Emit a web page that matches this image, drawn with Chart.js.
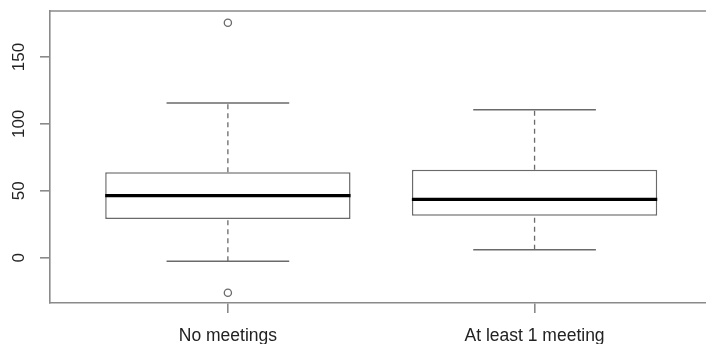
<!DOCTYPE html>
<html>
<head>
<meta charset="utf-8">
<script src="https://cdn.jsdelivr.net/npm/chart.js@4"></script>
<style>
  html, body { margin: 0; padding: 0; background: #fff; }
  #wrap { width: 706px; height: 344px; position: relative; }
</style>
</head>
<body>
<div id="wrap"><canvas id="c"></canvas></div>
<script>
// ---- data ----
const categories   = ['No meetings', 'At least 1 meeting'];
const whiskerLow   = [-2.7, 6.0];
const q1           = [28.9, 31.4];
const median       = [46.3, 43.6];
const q3           = [63.8, 65.8];
const whiskerHigh  = [115.6, 110.6];
const outliers     = [[175.6, -26.2], []];
const yTickValues  = [0, 50, 100, 150];

// ---- style constants ----
const BOX_WIDTH = 0.8;          // R boxwex
const STAPLE = 0.5;             // staple width relative to box
const LINE = '#6a6a6a';
const FRAME = '#8a8a8a';
const TEXT = '#222222';
const FONT = "'Liberation Sans', Arial, sans-serif";

const pos = categories.map((c, i) => i + 1);
const datasets = [];

// boxes (floating bars)
datasets.push({
  type: 'bar',
  order: 10,
  data: pos.map((p, i) => ({ x: p, y: [q1[i], q3[i]] })),
  backgroundColor: '#ffffff',
  borderColor: LINE,
  borderWidth: 1.5,
  borderSkipped: false,
  barPercentage: BOX_WIDTH,
  categoryPercentage: 1.0
});

pos.forEach((p, i) => {
  // dashed whiskers
  datasets.push({
    type: 'line', order: 5,
    data: [{ x: p, y: q3[i] }, { x: p, y: whiskerHigh[i] }],
    borderColor: LINE, borderWidth: 1.3, borderDash: [5, 4], pointRadius: 0, fill: false
  });
  datasets.push({
    type: 'line', order: 5,
    data: [{ x: p, y: whiskerLow[i] }, { x: p, y: q1[i] }],
    borderColor: LINE, borderWidth: 1.3, borderDash: [5, 4], pointRadius: 0, fill: false
  });
  // staples
  const hs = BOX_WIDTH * STAPLE / 2;
  [whiskerHigh[i], whiskerLow[i]].forEach(v => {
    datasets.push({
      type: 'line', order: 4,
      data: [{ x: p - hs, y: v }, { x: p + hs, y: v }],
      borderColor: LINE, borderWidth: 1.5, pointRadius: 0, fill: false
    });
  });
  // median
  const hb = BOX_WIDTH / 2;
  datasets.push({
    type: 'line', order: 1,
    data: [{ x: p - hb, y: median[i] }, { x: p + hb, y: median[i] }],
    borderColor: '#000000', borderWidth: 3.2, pointRadius: 0, fill: false,
    borderCapStyle: 'butt'
  });
});

// outliers
datasets.push({
  type: 'scatter', order: 0,
  data: pos.flatMap((p, i) => outliers[i].map(v => ({ x: p, y: v }))),
  pointStyle: 'circle', pointRadius: 3.6,
  pointBackgroundColor: '#ffffff', pointBorderColor: LINE, pointBorderWidth: 1.3,
  showLine: false
});

const framePlugin = {
  id: 'frame',
  afterDraw(chart) {
    const { ctx, chartArea: a, scales } = chart;
    ctx.save();
    ctx.strokeStyle = FRAME;
    ctx.lineWidth = 1.6;
    ctx.beginPath();
    ctx.moveTo(a.left, a.top);
    ctx.lineTo(a.right, a.top);
    ctx.stroke();
    // rotated y tick labels
    ctx.fillStyle = TEXT;
    ctx.font = '17px ' + FONT;
    ctx.textAlign = 'center';
    ctx.textBaseline = 'middle';
    scales.y.ticks.forEach(t => {
      const py = scales.y.getPixelForValue(t.value);
      ctx.save();
      ctx.translate(19, py);
      ctx.rotate(-Math.PI / 2);
      ctx.fillText(String(t.value), 0, 0);
      ctx.restore();
    });
    ctx.restore();
  }
};

new Chart(document.getElementById('c'), {
  type: 'bar',
  data: { datasets },
  plugins: [framePlugin],
  options: {
    responsive: true,
    maintainAspectRatio: false,
    animation: false,
    events: [],
    layout: { autoPadding: false, padding: { left: 40, top: 11, right: 0, bottom: 0 } },
    plugins: { legend: { display: false }, tooltip: { enabled: false } },
    scales: {
      x: {
        type: 'linear',
        offset: false,
        min: 0.42,
        max: 2.559,
        afterBuildTicks: s => { s.ticks = pos.map(v => ({ value: v })); },
        afterFit: s => { s.height = 41; },
        ticks: {
          callback: v => categories[v - 1],
          font: { size: 17.5, family: FONT },
          color: TEXT,
          padding: 13,
          maxRotation: 0, minRotation: 0, autoSkip: false
        },
        grid: { display: true, offset: false, drawOnChartArea: false, drawTicks: true, tickLength: 10, color: FRAME, lineWidth: 1.6 },
        border: { display: true, color: FRAME, width: 1.6 }
      },
      y: {
        type: 'linear',
        min: -33.9,
        max: 184.4,
        afterBuildTicks: s => { s.ticks = yTickValues.map(v => ({ value: v })); },
        afterFit: s => { s.width = 10; },
        ticks: { display: false },
        grid: { display: true, drawOnChartArea: false, drawTicks: true, tickLength: 10, color: FRAME, lineWidth: 1.6 },
        border: { display: true, color: FRAME, width: 1.6 }
      }
    }
  }
});
</script>
</body>
</html>
